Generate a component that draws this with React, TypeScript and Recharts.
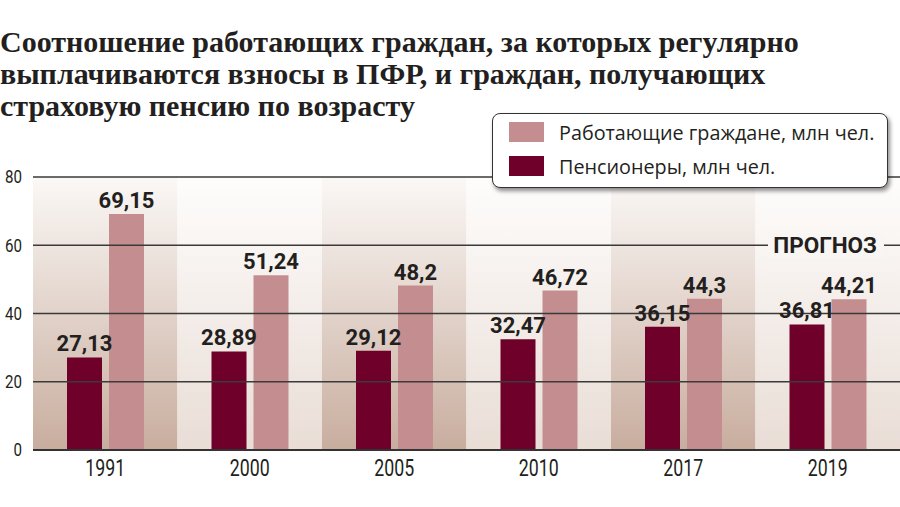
import {
  Bar,
  BarChart,
  LabelList,
  Legend,
  ReferenceArea,
  ReferenceLine,
  XAxis,
  YAxis,
} from "recharts";

// Years on the x axis, values in millions of people.
const YEARS = ["1991", "2000", "2005", "2010", "2017", "2019"];
const PENSIONERS = [27.13, 28.89, 29.12, 32.47, 36.15, 36.81];
const WORKERS = [69.15, 51.24, 48.2, 46.72, 44.3, 44.21];
const Y_TICKS = [0, 20, 40, 60, 80];

const TITLE_LINES = [
  "Соотношение работающих граждан, за которых регулярно",
  "выплачиваются взносы в ПФР, и граждан, получающих",
  "страховую пенсию по возрасту",
];
const PENSIONERS_NAME = "Пенсионеры, млн чел.";
const WORKERS_NAME = "Работающие граждане, млн чел.";
const FORECAST = "ПРОГНОЗ";

const data = YEARS.map((year, i) => ({
  year,
  pensioners: PENSIONERS[i],
  workers: WORKERS[i],
}));

const MAROON = "#6e0029";
const PINK = "#c48e90";
const INK = "#231f20";
const GRID = "#3a3a3a";
const SANS = "Roboto, sans-serif";

const fmt = (v: unknown) => String(v).replace(".", ",");

// the original uses a condensed face, so squeeze Roboto horizontally
function YTick({ x, y, payload }: any) {
  return (
    <text
      transform={`translate(${x},${y}) scale(0.84,1)`}
      dy="0.36em"
      textAnchor="end"
      fontFamily={SANS}
      fontSize={18}
      fill={INK}
    >
      {payload.value}
    </text>
  );
}

function XTick({ x, y, payload }: any) {
  return (
    <text
      transform={`translate(${x},${y}) scale(0.74,1)`}
      dy="0.71em"
      textAnchor="middle"
      fontFamily={SANS}
      fontSize={24}
      fill={INK}
    >
      {payload.value}
    </text>
  );
}

function LegendBox({ payload }: any) {
  const items = [...(payload ?? [])].reverse();
  return (
    <div
      style={{
        boxSizing: "border-box",
        width: 396,
        height: 75,
        background: "#fff",
        border: "1.5px solid #333",
        borderRadius: 8,
        boxShadow: "2px 3px 4px rgba(0,0,0,0.45)",
        padding: "1px 0 0 16px",
        fontFamily: "'Open Sans', sans-serif",
        fontSize: 19.8,
        color: INK,
      }}
    >
      {items.map((p: any) => (
        <div key={p.value} style={{ display: "flex", alignItems: "center", height: 34 }}>
          <span style={{ width: 35, height: 20, background: p.color, marginRight: 15, flex: "none" }} />
          <span style={{ whiteSpace: "nowrap" }}>{p.value}</span>
        </div>
      ))}
    </div>
  );
}

function ForecastLabel({ viewBox }: any) {
  if (!viewBox) return null;
  const right = viewBox.x + viewBox.width;
  const y = viewBox.y;
  return (
    <g>
      <rect x={right - 132} y={y - 12} width={116} height={24} fill="#f9f5f2" />
      <text
        x={right - 23}
        y={y}
        dy="0.36em"
        textAnchor="end"
        fontFamily={SANS}
        fontWeight="bold"
        fontSize={22.5}
        fill={INK}
      >
        {FORECAST}
      </text>
    </g>
  );
}

export default function App() {
  return (
    <div style={{ position: "absolute", left: 0, top: 0, width: 900, height: 507, background: "#fff" }}>
      <div
        style={{
          position: "absolute",
          left: 0,
          top: 26,
          fontFamily: "'Liberation Serif', serif",
          fontWeight: "bold",
          fontSize: 30,
          lineHeight: "32px",
          color: INK,
          whiteSpace: "nowrap",
          zIndex: 1,
        }}
      >
        {TITLE_LINES.map((t) => (
          <div key={t}>{t}</div>
        ))}
      </div>
      <BarChart
        width={900}
        height={507}
        data={data}
        margin={{ top: 177, right: 0, bottom: 27, left: 0 }}
        barCategoryGap={34}
        barGap={7}
      >
        <defs>
          <linearGradient id="bandDark" x1="0" y1="0" x2="0" y2="1">
            <stop offset="0" stopColor="#fbf8f6" />
            <stop offset="1" stopColor="#c8ad9e" />
          </linearGradient>
          <linearGradient id="bandLight" x1="0" y1="0" x2="0" y2="1">
            <stop offset="0" stopColor="#fefdfc" />
            <stop offset="1" stopColor="#e9ddd6" />
          </linearGradient>
        </defs>
        {YEARS.map((y, i) => (
          <ReferenceArea
            key={y}
            x1={y}
            x2={y}
            y1={0}
            y2={80}
            fill={i % 2 === 0 ? "url(#bandDark)" : "url(#bandLight)"}
            fillOpacity={1}
            stroke="none"
          />
        ))}
        {Y_TICKS.slice(1).map((t) => (
          <ReferenceLine
            key={t}
            y={t}
            stroke={GRID}
            strokeWidth={1.5}
            label={t === 60 ? <ForecastLabel /> : undefined}
          />
        ))}
        <XAxis
          dataKey="year"
          height={30}
          tickSize={0}
          tickMargin={9}
          axisLine={{ stroke: "#333", strokeWidth: 2 }}
          tick={<XTick />}
        />
        <YAxis
          width={33}
          domain={[0, 80]}
          ticks={Y_TICKS}
          tickSize={0}
          tickMargin={11}
          axisLine={false}
          tick={<YTick />}
        />
        <Legend
          layout="horizontal"
          verticalAlign="middle"
          align="center"
          content={<LegendBox />}
          wrapperStyle={{ left: 492, top: 113, width: 396, height: 75 }}
        />
        <Bar dataKey="pensioners" name={PENSIONERS_NAME} fill={MAROON} isAnimationActive={false}>
          <LabelList
            dataKey="pensioners"
            position="top"
            offset={6}
            formatter={fmt}
            fill={INK}
            fontSize={22}
            fontWeight="bold"
            fontFamily={SANS}
          />
        </Bar>
        <Bar dataKey="workers" name={WORKERS_NAME} fill={PINK} isAnimationActive={false}>
          <LabelList
            dataKey="workers"
            position="top"
            offset={6}
            formatter={fmt}
            fill={INK}
            fontSize={22}
            fontWeight="bold"
            fontFamily={SANS}
          />
        </Bar>
      </BarChart>
    </div>
  );
}
